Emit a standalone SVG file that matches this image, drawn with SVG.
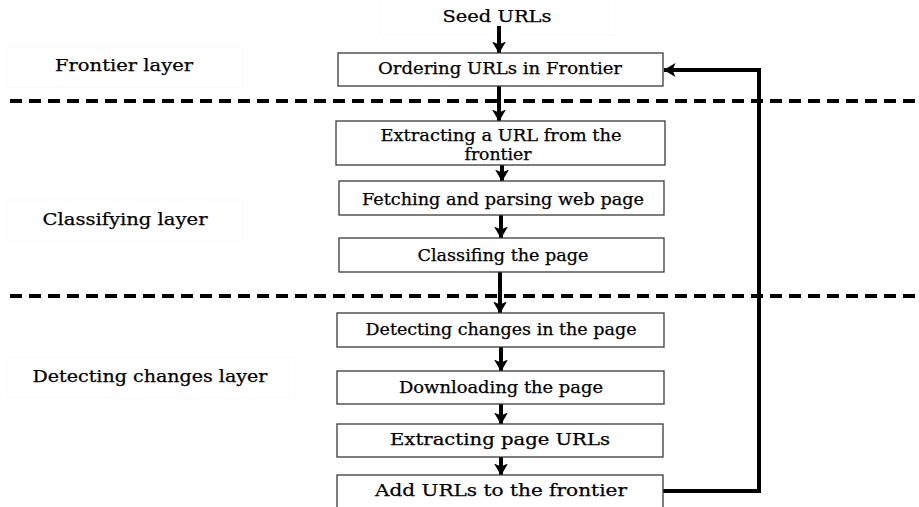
<svg xmlns="http://www.w3.org/2000/svg" width="919" height="507" viewBox="0 0 919 507">
  <style>
    .box { fill: #fff; stroke: #3a3a3a; stroke-width: 1.3; }
    .faint { fill: none; stroke: #fafafa; stroke-width: 1; }
    .t { font-family: "DejaVu Serif", "Liberation Serif", serif; font-size: 17px; fill: #000; text-anchor: middle; stroke: #000; stroke-width: 0.25; }
    .lbl { font-family: "DejaVu Serif", "Liberation Serif", serif; font-size: 17px; fill: #000; text-anchor: middle; stroke: #000; stroke-width: 0.25; }
    .flow { stroke: #000; stroke-width: 4; fill: none; }
    .loop { stroke: #000; stroke-width: 4; fill: none; }
    .sep { stroke: #000; stroke-width: 4; stroke-dasharray: 12 7; }
  </style>
  <defs>
    <!-- barbed arrowhead, sized in user units -->
    <marker id="ah" viewBox="0 0 12 14" refX="11.5" refY="7" markerWidth="12" markerHeight="14" markerUnits="userSpaceOnUse" orient="auto">
      <path d="M0,0 L12,7 L0,14 L3,7 z" fill="#000"/>
    </marker>
  </defs>

  <rect width="919" height="507" fill="#fff"/>

  <!-- faint caption frames -->
  <rect class="faint" x="7" y="47" width="236" height="40"/>
  <rect class="faint" x="7" y="200" width="236" height="40"/>
  <rect class="faint" x="7" y="358" width="288" height="40"/>
  <rect class="faint" x="380" y="-1" width="235" height="36"/>

  <!-- layer separators -->
  <line class="sep" x1="10" y1="101" x2="919" y2="101"/>
  <line class="sep" x1="10" y1="296" x2="919" y2="296"/>

  <!-- layer captions -->
  <g id="frontier-layer">
    <text class="lbl" x="124" y="71" textLength="138" lengthAdjust="spacingAndGlyphs">Frontier layer</text>
  </g>
  <g id="classifying-layer">
    <text class="lbl" x="125" y="225" textLength="165" lengthAdjust="spacingAndGlyphs">Classifying layer</text>
  </g>
  <g id="detecting-layer">
    <text class="lbl" x="150" y="382" textLength="235" lengthAdjust="spacingAndGlyphs">Detecting changes layer</text>
  </g>

  <!-- connectors -->
  <g id="connectors">
    <line class="flow" x1="499" y1="26" x2="499" y2="53" marker-end="url(#ah)"/>
    <line class="flow" x1="499" y1="86" x2="499" y2="121" marker-end="url(#ah)"/>
    <line class="flow" x1="502" y1="165" x2="502" y2="181" marker-end="url(#ah)"/>
    <line class="flow" x1="501" y1="215" x2="501" y2="238" marker-end="url(#ah)"/>
    <line class="flow" x1="500" y1="272" x2="500" y2="313" marker-end="url(#ah)"/>
    <line class="flow" x1="501" y1="347" x2="501" y2="371" marker-end="url(#ah)"/>
    <line class="flow" x1="501" y1="404" x2="501" y2="424" marker-end="url(#ah)"/>
    <line class="flow" x1="501" y1="457" x2="501" y2="475" marker-end="url(#ah)"/>
    <polyline class="loop" points="663,491 759,491 759,70 664,70" marker-end="url(#ah)"/>
  </g>

  <!-- nodes -->
  <g id="seed">
    <text class="t" x="497" y="22" textLength="109" lengthAdjust="spacingAndGlyphs">Seed URLs</text>
  </g>
  <g id="ordering">
    <rect class="box" x="338" y="53" width="325" height="33"/>
    <text class="t" x="500" y="74" textLength="244" lengthAdjust="spacingAndGlyphs">Ordering URLs in Frontier</text>
  </g>
  <g id="extracting-url">
    <rect class="box" x="336" y="121" width="329" height="44"/>
    <text class="t" x="501" y="141" textLength="241" lengthAdjust="spacingAndGlyphs">Extracting a URL from the</text>
    <text class="t" x="498" y="160" textLength="67" lengthAdjust="spacingAndGlyphs">frontier</text>
  </g>
  <g id="fetching">
    <rect class="box" x="339" y="181" width="325" height="34"/>
    <text class="t" x="503" y="205" textLength="282" lengthAdjust="spacingAndGlyphs">Fetching and parsing web page</text>
  </g>
  <g id="classifing">
    <rect class="box" x="339" y="238" width="325" height="34"/>
    <text class="t" x="503" y="261" textLength="171" lengthAdjust="spacingAndGlyphs">Classifing the page</text>
  </g>
  <g id="detecting">
    <rect class="box" x="337" y="313" width="327" height="34"/>
    <text class="t" x="501" y="335" textLength="271" lengthAdjust="spacingAndGlyphs">Detecting changes in the page</text>
  </g>
  <g id="downloading">
    <rect class="box" x="337" y="371" width="327" height="33"/>
    <text class="t" x="501" y="393" textLength="204" lengthAdjust="spacingAndGlyphs">Downloading the page</text>
  </g>
  <g id="extracting-page">
    <rect class="box" x="337" y="424" width="326" height="33"/>
    <text class="t" x="500" y="445" textLength="220" lengthAdjust="spacingAndGlyphs">Extracting page URLs</text>
  </g>
  <g id="add-urls">
    <rect class="box" x="337" y="475" width="326" height="40"/>
    <text class="t" x="501" y="496" textLength="252" lengthAdjust="spacingAndGlyphs">Add URLs to the frontier</text>
  </g>
</svg>
